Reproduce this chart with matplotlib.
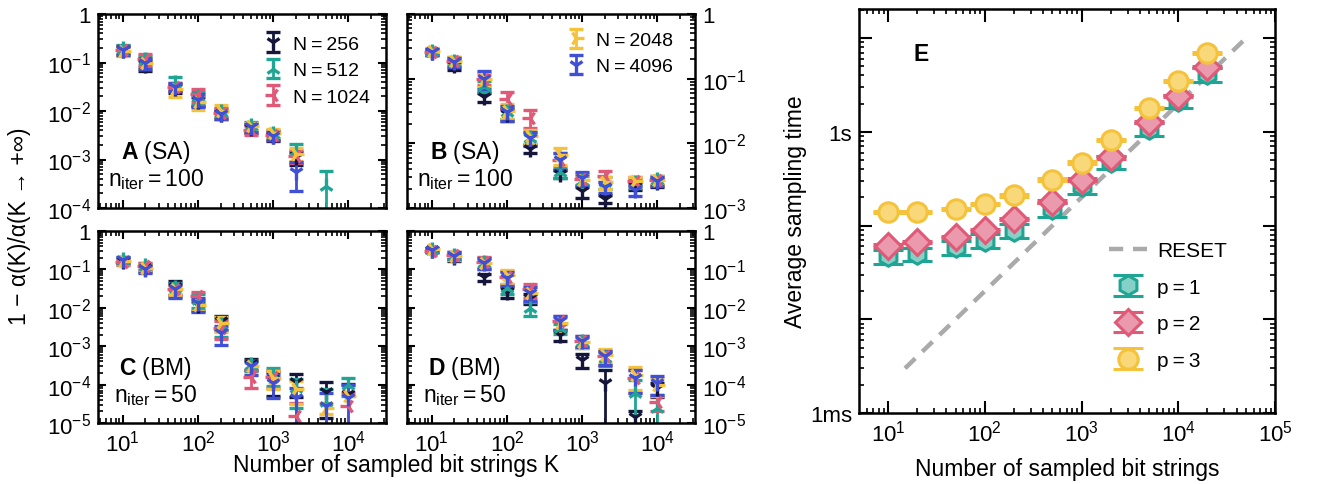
import numpy as np
import matplotlib.pyplot as plt
from matplotlib.ticker import LogLocator, NullFormatter, FuncFormatter

plt.rcParams['font.family'] = ['Liberation Sans', 'DejaVu Sans']
plt.rcParams['mathtext.fontset'] = 'custom'
plt.rcParams['mathtext.rm'] = 'Liberation Sans'
plt.rcParams['mathtext.it'] = 'Liberation Sans:italic'
plt.rcParams['mathtext.bf'] = 'Liberation Sans:bold'

nan = np.nan

# --- data: panels A-D, convergence vs K ---
K = [10, 20, 50, 100, 200, 500, 1000, 2000, 5000, 10000]
N_labels = ['N\u2009=\u2009256', 'N\u2009=\u2009512', 'N\u2009=\u20091024',
            'N\u2009=\u20092048', 'N\u2009=\u20094096']

A_val = [
    [0.18, 0.09, 0.030, 0.016, 0.0085, 0.0045, 0.0030, 0.0011, nan, nan],
    [0.19, 0.11, 0.038, 0.019, 0.0095, 0.0050, 0.0034, 0.0015, 2.8e-4, nan],
    [0.18, 0.12, 0.032, 0.022, 0.0090, 0.0040, 0.0032, 0.0012, nan, nan],
    [0.17, 0.10, 0.028, 0.015, 0.0100, 0.0048, 0.0035, 0.0013, nan, nan],
    [0.18, 0.10, 0.032, 0.017, 0.0085, 0.0046, 0.0031, 5.5e-4, nan, nan],
]
A_rel = [
    [0.2, 0.25, 0.2, 0.2, 0.2, 0.2, 0.2, 0.3, nan, nan],
    [0.2, 0.25, 0.3, 0.3, 0.2, 0.2, 0.2, 0.4, 1.1, nan],
    [0.2, 0.25, 0.2, 0.3, 0.2, 0.2, 0.2, 0.3, nan, nan],
    [0.2, 0.25, 0.3, 0.3, 0.3, 0.2, 0.2, 0.3, nan, nan],
    [0.2, 0.25, 0.2, 0.3, 0.2, 0.2, 0.2, 0.6, nan, nan],
]

B_val = [
    [0.26, 0.16, 0.052, 0.028, 0.0082, 0.0034, 0.0018, 0.0014, 0.0022, 0.0025],
    [0.26, 0.18, 0.077, 0.030, 0.012, 0.0036, 0.0026, 0.0025, 0.0024, 0.0027],
    [0.26, 0.19, 0.10, 0.048, 0.025, 0.0055, 0.0028, 0.0031, 0.0026, 0.0027],
    [0.27, 0.19, 0.10, 0.032, 0.013, 0.0065, 0.0027, 0.0025, 0.0026, 0.0027],
    [0.26, 0.18, 0.10, 0.030, 0.012, 0.0055, 0.0029, 0.0021, 0.0019, 0.0026],
]
B_rel = [
    [0.1, 0.15, 0.15, 0.2, 0.15, 0.15, 0.2, 0.15, 0.15, 0.15],
    [0.1, 0.15, 0.2, 0.2, 0.2, 0.2, 0.2, 0.2, 0.15, 0.15],
    [0.1, 0.15, 0.2, 0.3, 0.3, 0.3, 0.2, 0.2, 0.15, 0.15],
    [0.1, 0.15, 0.25, 0.25, 0.25, 0.3, 0.2, 0.2, 0.15, 0.15],
    [0.1, 0.15, 0.3, 0.25, 0.25, 0.3, 0.25, 0.2, 0.2, 0.15],
]

C_val = [
    [0.17, 0.11, 0.035, 0.012, 0.0045, 3.5e-4, 1.3e-4, 1.2e-4, 6.6e-5, 5.6e-5],
    [0.18, 0.12, 0.032, 0.016, 0.0035, 3.2e-4, 1.8e-4, 8.0e-5, 3.5e-5, 1.0e-4],
    [0.16, 0.12, 0.030, 0.020, 0.0030, 1.6e-4, 1.6e-4, 1.5e-5, nan, 2.8e-5],
    [0.17, 0.11, 0.030, 0.012, 0.0040, 3.0e-4, 1.5e-4, 7.6e-5, 2.5e-5, 5.0e-5],
    [0.18, 0.10, 0.030, 0.013, 0.0022, 3.0e-4, 1.1e-4, 4.6e-5, 2.7e-5, 4.5e-5],
]
C_rel = [
    [0.2, 0.2, 0.4, 0.3, 0.4, 0.3, 0.6, 0.6, 0.8, 0.9],
    [0.2, 0.2, 0.4, 0.4, 0.5, 0.3, 0.5, 0.7, 1.2, 0.5],
    [0.2, 0.2, 0.3, 0.3, 0.5, 0.5, 0.5, 1.2, nan, 1.1],
    [0.2, 0.2, 0.3, 0.3, 0.4, 0.4, 0.5, 0.6, 0.3, 0.9],
    [0.2, 0.2, 0.4, 0.4, 0.5, 0.4, 0.6, 0.8, 1.2, 1.2],
]

D_val = [
    [0.32, 0.21, 0.062, 0.026, 0.018, 0.0020, 4.5e-4, 1.1e-4, 1.4e-5, 8.0e-5],
    [0.32, 0.23, 0.15, 0.032, 0.010, 0.0030, 0.0013, 5.0e-4, 6.0e-5, 2.5e-5],
    [0.31, 0.24, 0.16, 0.065, 0.030, 0.0045, 0.0014, 5.5e-4, 1.5e-4, 3.5e-5],
    [0.33, 0.22, 0.15, 0.070, 0.025, 0.0040, 0.0013, 6.0e-4, 1.8e-4, 1.0e-4],
    [0.32, 0.23, 0.15, 0.060, 0.025, 0.0045, 0.0014, 5.5e-4, 1.5e-4, 1.1e-4],
]
D_rel = [
    [0.1, 0.2, 0.2, 0.3, 0.3, 0.3, 0.4, 1.2, 0.5, 0.4],
    [0.1, 0.2, 0.3, 0.3, 0.4, 0.3, 0.3, 0.4, 1.2, 1.2],
    [0.1, 0.2, 0.3, 0.4, 0.4, 0.4, 0.3, 0.4, 0.6, 0.4],
    [0.1, 0.2, 0.3, 0.4, 0.4, 0.4, 0.3, 0.4, 0.6, 0.5],
    [0.1, 0.2, 0.3, 0.4, 0.4, 0.4, 0.3, 0.4, 0.6, 0.5],
]

# --- data: panel E, average sampling time (s) ---
K_E = [10, 20, 50, 100, 200, 500, 1000, 2000, 5000, 10000, 20000]
t_p1 = [0.047, 0.050, 0.059, 0.069, 0.088, 0.15, 0.265, 0.48, 1.08, 2.14, 4.15]
t_p2 = [0.061, 0.067, 0.076, 0.090, 0.118, 0.18, 0.31, 0.54, 1.28, 2.42, 4.94]
t_p3 = [0.14, 0.14, 0.15, 0.17, 0.21, 0.31, 0.47, 0.82, 1.8, 3.5, 7.0]
e_p1 = [0.008, 0.008, 0.010, 0.012, 0.015, 0.025, 0.045, 0.08, 0.18, 0.35, 0.7]
e_p2 = [0.002, 0.002, 0.002, 0.003, 0.004, 0.006, 0.01, 0.02, 0.04, 0.08, 0.15]
e_p3 = [0.004, 0.004, 0.005, 0.005, 0.006, 0.01, 0.015, 0.025, 0.05, 0.1, 0.2]
reset_K = [15, 50000]
reset_slope = 2e-4  # RESET time per sampled string (s)

colors = ['#16163c', '#1fa593', '#e05a78', '#f5c23c', '#3f4fd6']
markers = ['1', '2', '3', '4', '1']

W, H = 1337, 485
fig = plt.figure(figsize=(W / 100, H / 100), dpi=100)


def box(l, t, r, b):
    return [l / W, 1 - b / H, (r - l) / W, (b - t) / H]


def style_axes(ax):
    for s in ax.spines.values():
        s.set_linewidth(1.8)
    ax.tick_params(which='both', direction='in', top=True, right=True, labelsize=16)
    ax.tick_params(which='major', length=6, width=1.5, pad=5)
    ax.tick_params(which='minor', length=3.5, width=1.2)
    ax.xaxis.set_minor_locator(LogLocator(base=10, subs=np.arange(2, 10), numticks=20))
    ax.yaxis.set_minor_locator(LogLocator(base=10, subs=np.arange(2, 10), numticks=20))
    ax.xaxis.set_minor_formatter(NullFormatter())
    ax.yaxis.set_minor_formatter(NullFormatter())


def ylab(v, pos):
    e = int(round(np.log10(v)))
    return '1' if e == 0 else r'$\mathregular{10^{%d}}$' % e


def panel(rect, vals, rels, ymin, right, bottom, tag, kind, niter):
    ax = fig.add_axes(rect)
    handles = []
    for i in range(5):
        v = np.array(vals[i])
        err = v * np.array(rels[i])
        h = ax.errorbar(K, v, yerr=err, ls='none', marker=markers[i], ms=11, mew=2.4,
                        color=colors[i], elinewidth=2, capsize=5, capthick=2.8)
        handles.append(h)
    ax.set_xscale('log')
    ax.set_yscale('log')
    ax.set_xlim(10 ** 0.67, 10 ** 4.5)
    ax.set_ylim(ymin, 1)
    style_axes(ax)
    ax.yaxis.set_major_locator(LogLocator(base=10, numticks=10))
    ax.yaxis.set_major_formatter(FuncFormatter(ylab))
    if right:
        ax.tick_params(labelleft=False, labelright=True)
    if not bottom:
        ax.tick_params(labelbottom=False)
    ax.text(0.2, 0.29, r'$\mathbf{%s}$ (%s)' % (tag, kind), transform=ax.transAxes,
            fontsize=16.5, ha='center', va='center')
    ax.text(0.2, 0.15, r'$\mathregular{n_{iter} = %d}$' % niter, transform=ax.transAxes,
            fontsize=16.5, ha='center', va='center')
    return ax, handles


axA, hA = panel(box(98, 15, 386, 209), A_val, A_rel, 1e-4, False, False, 'A', 'SA', 100)
axB, hB = panel(box(407, 15, 695, 209), B_val, B_rel, 1e-3, True, False, 'B', 'SA', 100)
axC, hC = panel(box(98, 232, 386, 424), C_val, C_rel, 1e-5, False, True, 'C', 'BM', 50)
axD, hD = panel(box(407, 232, 695, 424), D_val, D_rel, 1e-5, True, True, 'D', 'BM', 50)

axA.legend(hA[:3], N_labels[:3], loc='upper right', bbox_to_anchor=(0.99, 0.96), frameon=False,
           fontsize=14, handlelength=1.0, handletextpad=0.5, labelspacing=0.45, borderaxespad=0.3)
axB.legend(hA[3:], N_labels[3:], loc='upper right', bbox_to_anchor=(0.97, 0.98), frameon=False,
           fontsize=14, handlelength=1.0, handletextpad=0.5, labelspacing=0.45, borderaxespad=0.3)

fig.text(396 / W, 1 - 466 / H, 'Number of sampled bit strings K', ha='center', va='center', fontsize=16.5)
fig.text(20 / W, 1 - 226 / H, '1 \u2212 \u03b1(K)/\u03b1(K \u2192 +\u221e)', ha='center', va='center',
         rotation=90, fontsize=16.5)

# --- panel E ---
axE = fig.add_axes(box(859, 10, 1275, 414))
xr = np.array(reset_K, dtype=float)
axE.plot(xr, reset_slope * xr, ls=(0, (3.2, 2.2)), color='#aaaaaa', lw=3.2, label='RESET')
axE.errorbar(K_E, t_p1, yerr=e_p1, ls='none', marker='h', ms=14, mew=2.2,
             mfc='#86d1c7', mec='#1fa593', color='#1fa593', elinewidth=2.5,
             capsize=11, capthick=3, label='p\u2009=\u20091')
axE.errorbar(K_E, t_p2, yerr=e_p2, ls='none', marker='D', ms=13, mew=2.2,
             mfc='#eb9aad', mec='#e05a78', color='#e05a78', elinewidth=2.5,
             capsize=11, capthick=3, label='p\u2009=\u20092')
axE.errorbar(K_E, t_p3, yerr=e_p3, ls='none', marker='o', ms=14, mew=2.2,
             mfc='#f8d878', mec='#f5c23c', color='#f5c23c', elinewidth=2.5,
             capsize=11, capthick=3, label='p\u2009=\u20093')
axE.set_xscale('log')
axE.set_yscale('log')
axE.set_xlim(10 ** 0.7, 1e5)
axE.set_ylim(1e-3, 20.5)
style_axes(axE)
axE.yaxis.set_major_locator(LogLocator(base=10, numticks=10))
axE.yaxis.set_major_formatter(FuncFormatter(lambda v, p: {-3: '1ms', 0: '1s'}.get(int(round(np.log10(v))), '')))
axE.tick_params(which='major', length=9)
axE.set_xlabel('Number of sampled bit strings', fontsize=16.5, labelpad=8)
axE.set_ylabel('Average sampling time', fontsize=16.5, labelpad=2)
axE.text(0.15, 0.89, 'E', transform=axE.transAxes, fontsize=16.5, fontweight='bold', ha='center', va='center')
axE.legend(loc='lower right', bbox_to_anchor=(0.93, 0.06), frameon=False, fontsize=15,
           handlelength=1.8, handletextpad=0.5, labelspacing=0.85)

fig.savefig('out.png', dpi=100)
